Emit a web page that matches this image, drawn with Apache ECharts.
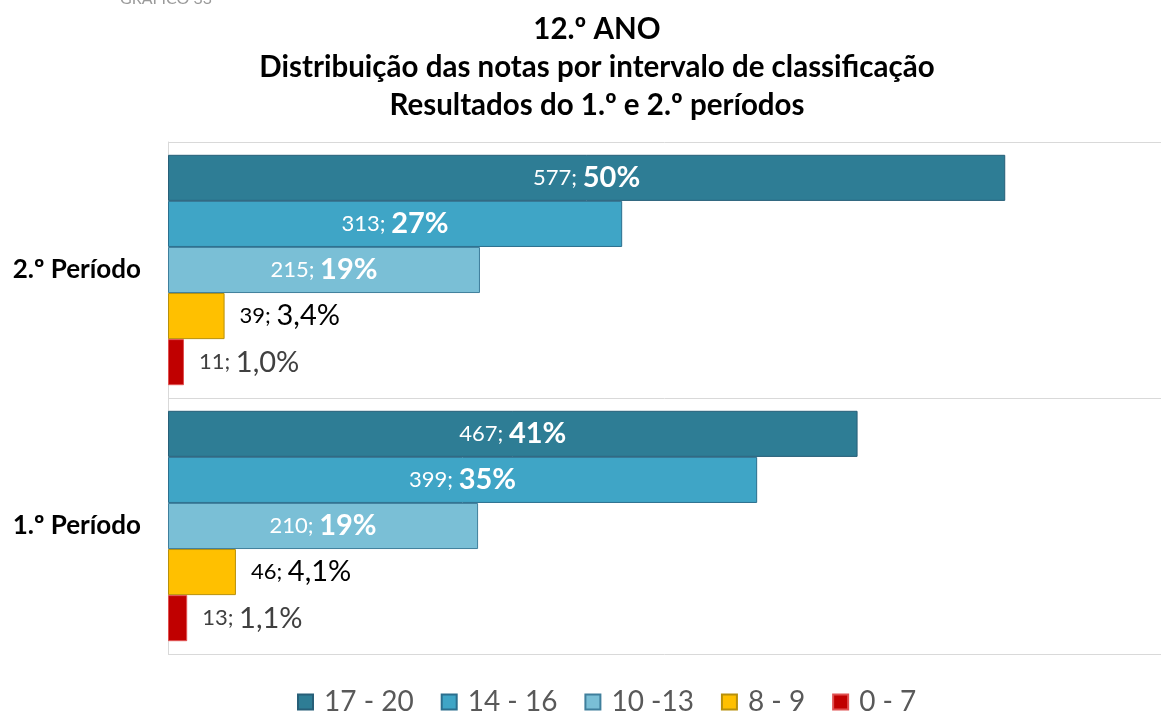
<!DOCTYPE html>
<html>
<head>
<meta charset="utf-8">
<script src="https://cdn.jsdelivr.net/npm/echarts@6/dist/echarts.min.js"></script>
<style>
  html, body { margin: 0; padding: 0; background: #fff; }
  #chart { width: 1161px; height: 711px; }
</style>
</head>
<body>
<div id="chart"></div>
<script>
// periodos (de cima para baixo) e intervalos de classificacao
const periods = ['2.º Período', '1.º Período'];
const classes = ['17 - 20', '14 - 16', '10 -13', '8 - 9', '0 - 7'];

// numero de notas por intervalo [2.º, 1.º]
const counts1720 = [577, 467];
const counts1416 = [313, 399];
const counts1013 = [215, 210];
const counts89 = [39, 46];
const counts07 = [11, 13];

const colors = ['#2e7d95', '#3fa5c6', '#7abfd6', '#ffc000', '#c00000'];
const borders = ['#275f78', '#2b6f8e', '#3f7f9c', '#b8900a', '#e05050'];

const allCounts = [counts1720, counts1416, counts1013, counts89, counts07];
const totals = periods.map((p, i) => allCounts.reduce((s, arr) => s + arr[i], 0));

function fmtPct(v) {
  if (v >= 10) return Math.round(v) + '%';
  return v.toFixed(1).replace('.', ',') + '%';
}

const font = 'Lato';
const myChart = echarts.init(document.getElementById('chart'));

const series = allCounts.map((arr, k) => {
  const inside = k < 3;
  const txtColor = inside ? '#ffffff' : (k === 3 ? '#000000' : '#404040');
  return {
    name: classes[k],
    type: 'bar',
    barGap: '0%',
    barCategoryGap: '10%',
    data: arr.map((c, i) => ({ value: c / totals[i] * 100, count: c })),
    itemStyle: { color: colors[k], borderColor: borders[k], borderWidth: 1 },
    label: {
      show: true,
      position: inside ? 'inside' : 'right',
      distance: 15,
      formatter: (p) => '{n|' + p.data.count + '; }{p|' + fmtPct(p.value) + '}',
      rich: {
        n: { fontFamily: font, fontSize: 22, color: txtColor },
        p: { fontFamily: font, fontSize: 29, fontWeight: inside ? 'bold' : 'normal', color: txtColor }
      }
    }
  };
});

const option = {
  animation: false,
  textStyle: { fontFamily: font },
  graphic: [
    {
      type: 'text', left: 120, top: -9,
      style: { text: 'GRÁFICO 33', fontFamily: font, fontSize: 16, fill: '#9a9a9a' }
    },
    {
      type: 'text', x: 597, y: 10,
      style: {
        text: '12.º ANO\nDistribuição das notas por intervalo de classificação\nResultados do 1.º e 2.º períodos',
        fontFamily: font, fontSize: 29.5, fontWeight: 'bold', fill: '#000',
        align: 'center', lineHeight: 38
      }
    }
  ],
  legend: {
    top: 688,
    left: 297,
    padding: 0,
    icon: 'rect',
    itemWidth: 15,
    itemHeight: 15,
    itemGap: 27,
    textStyle: { fontFamily: font, fontSize: 28, color: '#595959', padding: [0, 0, 0, 6] },
    data: classes
  },
  grid: { left: 168, top: 142, right: 0, height: 512 },
  xAxis: {
    type: 'value',
    min: 0,
    max: 59.25,
    show: false
  },
  yAxis: {
    type: 'category',
    inverse: true,
    data: periods,
    axisLine: { show: true, lineStyle: { color: '#d9d9d9', width: 1 } },
    axisTick: { show: false },
    axisLabel: { fontFamily: font, fontSize: 26, fontWeight: 'bold', color: '#000', margin: 27 },
    splitLine: { show: true, lineStyle: { color: '#d9d9d9', width: 1 } }
  },
  series: series
};

myChart.setOption(option);
window.addEventListener('resize', function () {
  myChart.resize();
});
</script>
</body>
</html>
